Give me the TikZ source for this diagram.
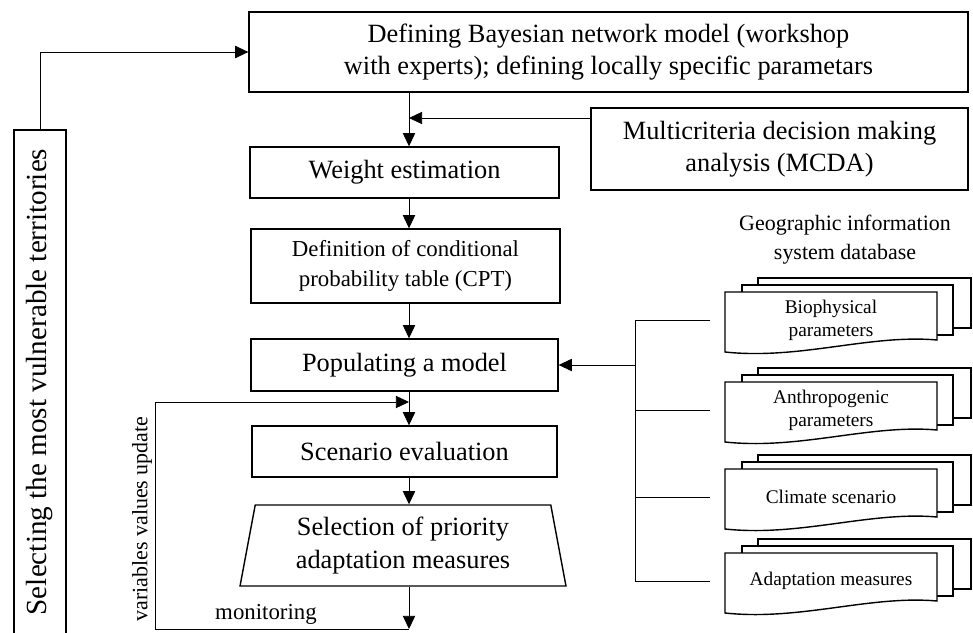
\documentclass[tikz,border=0pt]{standalone}
\usepackage{fontspec}
\setmainfont{Liberation Serif}
\usetikzlibrary{arrows.meta}
\usetikzlibrary{shapes.geometric}
\tikzset{>={Triangle[length=7.5pt,width=7pt]}}
\tikzset{
	stepbox/.style={draw,line width=.8pt,align=center,inner sep=0pt,
		font=\fontsize{15}{18.5}\selectfont},
	conn/.style={line width=.5pt},
	arr/.style={conn,->},
	gisdoc/.style={align=center,inner sep=0pt,minimum width=4.24cm,minimum height=1.2cm,
		font=\fontsize{11}{13}\selectfont},
	lbl/.style={inner sep=0pt}
}
\newcommand{\gisStack}[3]{
	% #1: node name
	% #2: y of front top edge
	% #3: text
	\draw[line width=.8pt,fill=white] (758,#2-14) rectangle (971,#2+36);
	\draw[line width=.8pt,fill=white] (742,#2-7) rectangle (953,#2+43);
	\draw[line width=.8pt,fill=white] (725,#2) -- (937,#2) -- (937,#2+48)
		.. controls (870,#2+42) and (800,#2+68) .. (725,#2+60) -- cycle;
	\node[gisdoc] (#1) at (831,#2+28) {#3};
}

\begin{document}
\begin{tikzpicture}[x=0.02cm,y=-0.02cm]
\useasboundingbox (0,0) rectangle (973,632);

% main steps
\node[stepbox,minimum width=14.38cm,minimum height=1.6cm] (model) at (608.5,52)
	{Defining Bayesian network model (workshop\\with experts); defining locally specific parametars};
\node[stepbox,minimum width=7.54cm,minimum height=1.64cm] (mcda) at (779.5,149)
	{Multicriteria decision making\\analysis (MCDA)};
\node[stepbox,minimum width=6.18cm,minimum height=1.02cm] (weight) at (404.5,172.5)
	{Weight estimation};
\node[stepbox,minimum width=6.18cm,minimum height=1.48cm,font=\fontsize{13}{17}\selectfont] (cpt) at (405.5,266)
	{Definition of conditional\\probability table (CPT)};
\node[stepbox,minimum width=6.14cm,minimum height=1.04cm] (populate) at (404.5,365)
	{Populating a model};
\node[stepbox,minimum width=6.1cm,minimum height=1.02cm] (scenario) at (404.5,451.5)
	{Scenario evaluation};
\node[stepbox,trapezium,trapezium left angle=75,trapezium right angle=75,
	trapezium stretches body,minimum width=6.52cm,minimum height=1.62cm] (select) at (403,545.5)
	{Selection of priority\\adaptation measures};

% territories
\node[stepbox,rotate=90,minimum width=10.08cm,minimum height=1.04cm,font=\fontsize{16.6}{18}\selectfont] (terr) at (40,382)
	{Selecting the most vulnerable territories};

% flow axis
\coordinate (axis) at (409,0);
\coordinate (mcdain) at (409,118);
\coordinate (loopin) at (409,402);
\coordinate (monend) at (409,629);
\coordinate (loopcorner) at (155,629);

\draw[arr] (model.south -| axis) -- (weight.north -| axis);
\draw[arr] (mcda.west |- mcdain) -- (mcdain);
\draw[arr] (weight.south -| axis) -- (cpt.north -| axis);
\draw[arr] (cpt.south -| axis) -- (populate.north -| axis);
\draw[arr] (populate.south -| axis) -- (scenario.north -| axis);
\draw[arr] (scenario.south -| axis) -- (select.north -| axis);
\draw[arr] (select.south -| axis) -- (monend);
\draw[arr] (monend) -- (loopcorner) |- (loopin);
\draw[arr] (terr.east) |- (model.west);

\node[lbl,rotate=90,font=\fontsize{12.5}{14}\selectfont] (update) at (142,519) {variables values update};
\node[lbl,font=\fontsize{13}{15}\selectfont] (monitor) at (266,614) {monitoring};

% GIS database
\node[lbl,align=center,font=\fontsize{12.5}{16.5}\selectfont] (gis) at (845,240)
	{Geographic information\\system database};
\gisStack{bio}{292}{Biophysical\\parameters}
\gisStack{anthro}{382}{Anthropogenic\\parameters}
\gisStack{climate}{469}{Climate scenario}
\gisStack{adapt}{553}{Adaptation measures}

\coordinate (bus) at (635,0);
\draw[conn] (bio.west -| bus) -- (adapt.west -| bus);
\foreach \d in {bio,anthro,climate,adapt}
	\draw[conn,shorten >=.3cm] (\d.west -| bus) -- (\d.west);
\draw[arr] (populate.east -| bus) -- (populate.east);

\end{tikzpicture}
\end{document}
